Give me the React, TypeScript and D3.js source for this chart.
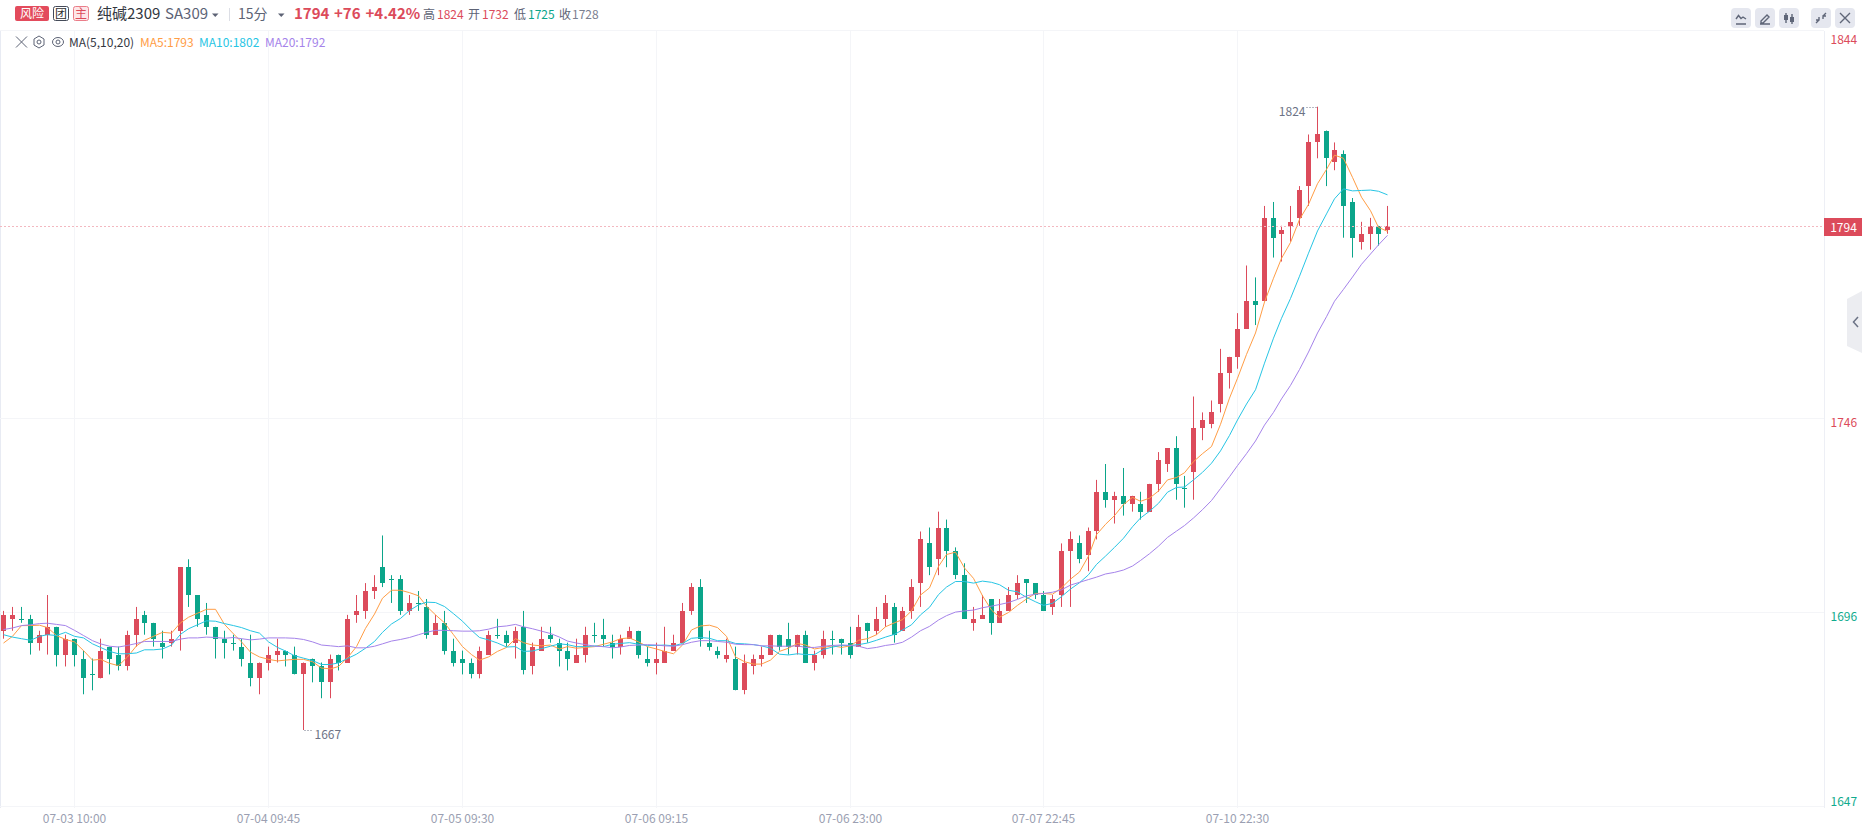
import React from "react";
import * as d3 from "d3";

const opens = [
  1692,1695,1695,1695,1689,1691,1693,1686,1690,1685,
  1681,1680,1688,1686,1683,1691,1696,1694,1689,1689,
  1692,1708,1701,1696,1693,1690,1689,1688,1684,1680,
  1684,1686,1687,1686,1681,1685,1683,1679,1686,1684,
  1696,1697,1702,1708,1705,1705,1697,1699,1698,1691,
  1694,1687,1685,1684,1681,1686,1691,1691,1689,1693,
  1683,1687,1691,1689,1687,1684,1686,1691,1691,1689,
  1688,1690,1692,1685,1684,1684,1687,1689,1697,1703,
  1689,1687,1685,1685,1677,1683,1685,1686,1691,1690,
  1688,1691,1684,1686,1690,1690,1689,1688,1694,1692,
  1695,1698,1692,1697,1704,1714,1710,1718,1712,1706,
  1694,1695,1700,1694,1697,1701,1705,1704,1701,1698,
  1701,1712,1714,1711,1717,1727,1725,1726,1724,1724,
  1722,1729,1734,1738,1728,1732,1743,1744,1749,1757,
  1761,1768,1775,1775,1796,1792,1794,1796,1804,1815,
  1818,1810,1812,1800,1790,1792,1794,1793,
];
const highs = [
  1697,1698,1698,1696,1692,1701,1693,1691,1690,1687,
  1685,1690,1688,1688,1692,1698,1697,1694,1692,1692,
  1708,1710,1701,1699,1693,1692,1691,1690,1691,1684,
  1688,1690,1687,1688,1684,1685,1684,1686,1686,1696,
  1701,1704,1706,1716,1706,1706,1701,1702,1700,1696,
  1697,1690,1687,1685,1688,1692,1695,1692,1693,1697,
  1689,1693,1693,1690,1689,1690,1693,1694,1695,1691,
  1691,1693,1692,1688,1689,1693,1691,1699,1704,1705,
  1692,1688,1690,1688,1686,1686,1688,1691,1691,1694,
  1691,1692,1687,1692,1692,1690,1693,1696,1694,1698,
  1701,1699,1698,1705,1717,1718,1722,1720,1713,1709,
  1698,1701,1700,1700,1703,1706,1705,1704,1702,1701,
  1714,1717,1716,1718,1730,1734,1727,1733,1726,1727,
  1729,1737,1738,1741,1731,1751,1747,1750,1763,1761,
  1772,1784,1781,1799,1800,1794,1799,1804,1817,1824,
  1818,1815,1813,1801,1795,1796,1794,1799,
];
const lows = [
  1690,1692,1694,1686,1687,1686,1683,1683,1683,1676,
  1677,1680,1681,1682,1682,1688,1691,1688,1685,1688,
  1687,1698,1693,1691,1685,1685,1687,1683,1678,1676,
  1682,1684,1683,1681,1667,1679,1675,1675,1682,1684,
  1694,1695,1700,1703,1699,1696,1696,1697,1690,1691,
  1686,1683,1681,1680,1680,1686,1690,1688,1685,1681,
  1681,1687,1689,1683,1682,1684,1684,1689,1688,1685,
  1686,1690,1685,1683,1681,1684,1687,1689,1696,1688,
  1687,1685,1684,1677,1676,1681,1683,1686,1687,1686,
  1686,1684,1682,1685,1686,1686,1685,1688,1689,1691,
  1693,1689,1692,1695,1698,1706,1706,1708,1705,1695,
  1692,1695,1691,1694,1697,1700,1699,1700,1697,1696,
  1698,1698,1709,1707,1715,1723,1719,1721,1722,1720,
  1722,1727,1732,1725,1723,1725,1740,1743,1747,1753,
  1758,1768,1769,1775,1786,1785,1790,1794,1799,1811,
  1804,1808,1791,1786,1788,1788,1789,1792,
];
const closes = [
  1696,1696,1695,1689,1691,1693,1686,1690,1686,1680,
  1681,1687,1685,1683,1691,1695,1694,1690,1688,1690,
  1708,1701,1695,1693,1690,1689,1689,1685,1680,1684,
  1686,1687,1686,1681,1684,1683,1679,1685,1684,1695,
  1697,1702,1703,1704,1705,1697,1699,1699,1691,1694,
  1687,1684,1684,1681,1687,1691,1691,1689,1692,1682,
  1688,1690,1690,1687,1685,1686,1691,1691,1690,1688,
  1690,1692,1686,1684,1685,1687,1689,1697,1703,1690,
  1688,1686,1686,1677,1684,1685,1686,1691,1688,1688,
  1691,1684,1686,1690,1690,1689,1686,1693,1692,1695,
  1699,1691,1697,1703,1715,1708,1718,1712,1706,1695,
  1695,1696,1694,1697,1701,1704,1704,1701,1697,1700,
  1712,1715,1710,1717,1727,1725,1726,1724,1726,1722,
  1729,1735,1738,1729,1728,1743,1745,1747,1757,1761,
  1768,1775,1774,1796,1791,1793,1795,1803,1815,1817,
  1811,1813,1799,1791,1792,1794,1792,1794,
];
const ma5 = [
  1688.9,1690.6,1693.3,1693.3,1693.4,1692.8,1690.8,1689.8,1689.2,1687,
  1684.6,1684.8,1683.8,1683.2,1685.4,1688.2,1689.6,1690.6,1691.6,1691.4,
  1694,1695.4,1696.4,1697.4,1697.4,1693.6,1691.2,1689.2,1686.6,1685.4,
  1684.8,1684.4,1684.6,1684.8,1684.8,1684.2,1682.6,1682.4,1683,1685.2,
  1688,1692.6,1696.2,1700.2,1702.2,1702.2,1701.6,1700.8,1698.2,1696,
  1694,1691,1688,1686,1684.6,1685.4,1686.8,1687.8,1690,1689,
  1688.4,1688.2,1688.4,1687.4,1688,1687.6,1687.8,1688,1688.6,1689.2,
  1690,1690.2,1689.2,1688,1687.4,1686.8,1686.2,1688.4,1692.2,1693.2,
  1693.4,1692.8,1690.6,1685.4,1684.2,1683.6,1683.6,1684.6,1686.8,1687.6,
  1688.8,1688.4,1687.4,1687.8,1688.2,1687.8,1688.2,1689.6,1690,1691,
  1693,1694,1694.8,1697,1701,1702.8,1708.2,1711.2,1711.8,1707.8,
  1705.2,1700.8,1697.2,1695.4,1696.6,1698.4,1700,1701.4,1701.4,1701.2,
  1702.8,1705,1706.8,1710.8,1716.2,1718.8,1721,1723.8,1725.6,1724.6,
  1725.4,1727.2,1730,1730.6,1731.8,1734.6,1736.6,1738.4,1744,1750.6,
  1755.6,1761.6,1767,1774.8,1780.8,1785.8,1789.8,1795.6,1799.4,1804.6,
  1808.2,1811.8,1811,1806.2,1801.2,1797.8,1793.6,1792.6,
];
const ma10 = [
  1691,1690.4,1690,1689.6,1690.6,1691,1690.8,1691.6,1690.6,1690.2,
  1688.7,1687.8,1686.8,1686.2,1686.2,1686.4,1687.2,1687.2,1687.4,1688.4,
  1691.1,1692.5,1693.5,1694.5,1694.4,1693.8,1693.3,1692.8,1692,1691.4,
  1689.2,1687.8,1686.9,1685.7,1685.1,1684.5,1683.5,1683.5,1683.9,1685,
  1686.1,1687.6,1689.3,1691.6,1693.7,1695.1,1697.1,1698.5,1699.2,1699.1,
  1698.1,1696.3,1694.4,1692.1,1690.3,1689.7,1688.9,1687.9,1688,1686.8,
  1686.9,1687.5,1688.1,1688.7,1688.5,1688,1688,1688.2,1688,1688.6,
  1688.8,1689,1688.6,1688.3,1688.3,1688.4,1688.2,1688.8,1690.1,1690.3,
  1690.1,1689.5,1689.5,1688.8,1688.7,1688.5,1688.2,1687.6,1686.1,1685.9,
  1686.2,1686,1686,1687.3,1687.9,1688.3,1688.3,1688.5,1688.9,1689.6,
  1690.4,1691.1,1692.2,1693.5,1696,1697.9,1701.1,1703,1704.4,1704.4,
  1704,1704.5,1704.2,1703.6,1702.2,1701.8,1700.4,1699.3,1698.4,1698.9,
  1700.6,1702.5,1704.1,1706.1,1708.7,1710.8,1713,1715.3,1718.2,1720.4,
  1722.1,1724.1,1726.9,1728.1,1728.2,1730,1731.9,1734.2,1737.3,1741.2,
  1745.1,1749.1,1752.7,1759.4,1765.7,1770.7,1775.7,1781.3,1787.1,1792.7,
  1797,1800.8,1803.3,1802.8,1802.9,1803,1802.7,1801.8,
];
const ma20 = [
  1692.3,1692.7,1693.3,1693.5,1693.8,1693.9,1693.6,1693.3,1692.1,1690.8,
  1689.5,1688.7,1688.1,1687.9,1688.3,1688.8,1689.3,1689.3,1689.3,1689.3,
  1689.9,1690.2,1690.2,1690.4,1690.3,1690.1,1690.3,1690,1689.7,1689.9,
  1690.2,1690.2,1690.2,1690.1,1689.8,1689.2,1688.4,1688.2,1688,1688.2,
  1687.7,1687.7,1688.1,1688.7,1689.4,1689.8,1690.3,1691,1691.6,1692.1,
  1692.1,1692,1691.9,1691.9,1692,1692.4,1693,1693.2,1693.6,1693,
  1692.5,1691.9,1691.3,1690.4,1689.4,1688.9,1688.5,1688.1,1688,1687.7,
  1687.9,1688.3,1688.4,1688.5,1688.4,1688.2,1688.1,1688.5,1689.1,1689.5,
  1689.5,1689.3,1689.1,1688.6,1688.5,1688.5,1688.2,1688.2,1688.1,1688.1,
  1688.2,1687.8,1687.8,1688.1,1688.3,1688.4,1688.3,1688.1,1687.5,1687.8,
  1688.3,1688.6,1689.1,1690.4,1692,1693.1,1694.7,1695.8,1696.7,1697,
  1697.2,1697.8,1698.2,1698.6,1699.1,1699.9,1700.8,1701.2,1701.4,1701.7,
  1702.3,1703.5,1704.2,1704.9,1705.5,1706.3,1706.7,1707.3,1708.3,1709.7,
  1711.4,1713.3,1715.5,1717.1,1718.5,1720.4,1722.5,1724.8,1727.8,1730.8,
  1733.6,1736.6,1739.8,1743.8,1747,1750.4,1753.8,1757.8,1762.2,1767,
  1771.1,1775,1778,1781.1,1784.3,1786.9,1789.2,1791.6,
];

const xTickIndex = [8, 30, 52, 74, 96, 118, 140];
const xTickLabels = ["07-03 10:00", "07-04 09:45", "07-05 09:30", "07-06 09:15", "07-06 23:00", "07-07 22:45", "07-10 22:30"];
const yGridValues = [1843.3, 1745.5, 1696.7, 1647.9];
const yTickLabels = ["1844", "1746", "1696", "1647"];
const lastPrice = 1794;

const W = 1862;
const H = 830;
const RED = "#dc4b5b";
const GREEN = "#0ba58a";
const C5 = "#ff9d45";
const C10 = "#27c5e4";
const C20 = "#a583ea";
const GRID = "#f4f5f8";
const FONT = "'Noto Sans CJK SC', 'Noto Sans', sans-serif";

const plotRight = 1824;
const plotTop = 31;
const plotBottom = 808;

const x = d3.scaleLinear().domain([0, 158]).range([3.9, 3.9 + 158 * 8.814]);
const y = d3.scaleLinear().domain([1824, 1667]).range([106.7, 730]);

const px = (v: number) => Math.floor(x(v)) + 0.5;
const py = (v: number) => Math.round(y(v)) + 0.5;

const maPath = (vals: number[]) =>
  d3.line<number>().x((_, i) => px(i)).y((d) => y(d))(vals) as string;

function Candles() {
  return (
    <g>
      {closes.map((c, i) => {
        const o = opens[i];
        const col = c > o ? RED : GREEN;
        const cx = px(i);
        const top = Math.round(y(Math.max(o, c)));
        const bot = Math.round(y(Math.min(o, c)));
        return (
          <g key={i}>
            <line x1={cx} x2={cx} y1={y(highs[i])} y2={y(lows[i])} stroke={col} strokeWidth={1} />
            <rect x={cx - 2.5} y={top} width={5} height={Math.max(bot - top, 1)} fill={col} />
          </g>
        );
      })}
    </g>
  );
}

function Header() {
  const t = (s: string, tx: number, fill: string, size = 12, weight = 400) => (
    <text x={tx} y={18.5} fill={fill} fontSize={size} fontWeight={weight}>{s}</text>
  );
  return (
    <g fontFamily={FONT}>
      <rect x={15} y={6} width={34} height={15} rx={2} fill="#e34b5c" />
      <text x={32} y={18} fill="#fff" fontSize={12} textAnchor="middle">风险</text>
      <rect x={53.5} y={6.5} width={15} height={14} rx={2} fill="#fff" stroke="#444a58" />
      <text x={61} y={18} fill="#333" fontSize={12} textAnchor="middle">团</text>
      <rect x={73.5} y={6.5} width={15} height={14} rx={2} fill="#fde6e8" stroke="#ea7d89" />
      <text x={81} y={18} fill={RED} fontSize={12} textAnchor="middle">主</text>
      {t("纯碱2309", 97, "#33373f", 15)}
      {t("SA309", 165, "#5d6375", 15)}
      <path d="M212 13.5h6.5l-3.25 3.5z" fill="#5d6375" />
      <line x1={229.5} x2={229.5} y1={8} y2={21} stroke="#dcdee5" />
      {t("15分", 238, "#5d6375", 14)}
      <path d="M278 13.5h6.5l-3.25 3.5z" fill="#5d6375" />
      {t("1794", 294, RED, 15, 700)}
      {t("+76", 334, RED, 15, 700)}
      {t("+4.42%", 365.5, RED, 15, 700)}
      {t("高", 423, "#5d6375")}
      {t("1824", 437, RED)}
      {t("开", 468, "#5d6375")}
      {t("1732", 482, RED)}
      {t("低", 514, "#5d6375")}
      {t("1725", 528, GREEN)}
      {t("收", 559, "#5d6375")}
      {t("1728", 572, "#7b8090")}
    </g>
  );
}

function Legend() {
  const ty = 47;
  return (
    <g fontFamily={FONT} fontSize={12}>
      <path d="M16 36.5l11 11M27 36.5l-11 11" stroke="#5d6375" fill="none" />
      <path d="M39 36l5 3v6l-5 3-5-3v-6z" stroke="#5d6375" fill="none" />
      <circle cx={39} cy={42} r={2} stroke="#5d6375" fill="none" />
      <ellipse cx={58} cy={42} rx={5.5} ry={4.5} stroke="#5d6375" fill="none" />
      <circle cx={58} cy={42} r={2} stroke="#5d6375" fill="none" />
      <text x={69} y={ty} fill="#33373f">MA(5,10,20)</text>
      <text x={140} y={ty} fill={C5}>MA5:1793</text>
      <text x={199} y={ty} fill={C10}>MA10:1802</text>
      <text x={265} y={ty} fill={C20}>MA20:1792</text>
    </g>
  );
}

function Toolbar() {
  const starts = [1731, 1755, 1779, 1811, 1835];
  const icons = [
    "M5 16h10M5 11l2.5-3.5 2.5 3 2-1.5 3 2",
    "M5 16h10M6 13l6-6 2 2-6 6H6z",
    "M7 5v10M13 6v10",
    "M5 15l3.5-3.5M15 5l-3.5 3.5M8 9v3H5M12 11V8h3",
    "M5 5l10 10M15 5l-10 10",
  ];
  return (
    <g>
      {starts.map((sx, i) => (
        <g key={sx} transform={`translate(${sx},8)`}>
          <rect width={20} height={20} rx={4} fill="#e5e7ef" />
          <path d={icons[i]} stroke="#5f6678" strokeWidth={1.4} fill="none" />
          {i === 2 && <rect x={5} y={7} width={4} height={5} fill="#5f6678" />}
          {i === 2 && <rect x={11} y={9} width={4} height={5} fill="#5f6678" />}
        </g>
      ))}
    </g>
  );
}

export default function App() {
  const hiIdx = d3.maxIndex(highs);
  const loIdx = d3.minIndex(lows);
  const lastY = Math.round(y(lastPrice));
  return (
    <div style={{ position: "fixed", left: 0, top: 0, background: "#fff" }}>
      <svg width={W} height={H} style={{ display: "block" }}>
        <rect width={W} height={H} fill="#fff" />
        {/* grid */}
        <line x1={0.5} x2={0.5} y1={plotTop} y2={plotBottom} stroke="#e8ebf3" />
        {yGridValues.map((v) => (
          <line key={v} x1={0} x2={plotRight} y1={py(v)} y2={py(v)} stroke={GRID} />
        ))}
        {xTickIndex.map((i) => (
          <line key={i} x1={px(i)} x2={px(i)} y1={plotTop} y2={plotBottom} stroke={GRID} />
        ))}
        <line x1={plotRight + 0.5} x2={plotRight + 0.5} y1={plotTop} y2={plotBottom} stroke="#edeff5" />

        <Candles />
        <path d={maPath(ma5)} fill="none" stroke={C5} strokeWidth={1} />
        <path d={maPath(ma10)} fill="none" stroke={C10} strokeWidth={1} />
        <path d={maPath(ma20)} fill="none" stroke={C20} strokeWidth={1} />

        {/* last price */}
        <line x1={0} x2={plotRight} y1={lastY + 0.5} y2={lastY + 0.5} stroke="#f3b8c0" strokeDasharray="2 2" />
        <rect x={plotRight} y={lastY - 8} width={W - plotRight} height={18} fill={RED} />
        <text x={1843.5} y={lastY + 6} fill="#fff" fontSize={12} fontFamily={FONT} textAnchor="middle">{lastPrice}</text>

        {/* high / low marks */}
        <g fontFamily={FONT} fontSize={12} fill="#6d7386">
          <line x1={px(hiIdx) - 11} x2={px(hiIdx) - 1} y1={py(highs[hiIdx])} y2={py(highs[hiIdx])} stroke="#6d7386" strokeDasharray="1 2" />
          <text x={px(hiIdx) - 12} y={y(highs[hiIdx]) + 9} textAnchor="end">{highs[hiIdx]}</text>
          <line x1={px(loIdx) + 1} x2={px(loIdx) + 9} y1={py(lows[loIdx])} y2={py(lows[loIdx])} stroke="#6d7386" strokeDasharray="1 2" />
          <text x={px(loIdx) + 11} y={y(lows[loIdx]) + 9}>{lows[loIdx]}</text>
        </g>

        {/* axes */}
        <g fontFamily={FONT} fontSize={12}>
          {yGridValues.map((v, i) => (
            <text key={v} x={1830.5} y={Math.min(Math.max(y(v) + 8.5, 44), 805.5)} fill={i < 2 ? RED : "#10ab8e"}>
              {yTickLabels[i]}
            </text>
          ))}
          {xTickIndex.map((i, k) => (
            <text key={i} x={px(i)} y={823} fill="#9b9fb2" textAnchor="middle">{xTickLabels[k]}</text>
          ))}
        </g>

        <path d="M1862 291 L1847 299 V346 L1862 353 Z" fill="#ecedf1" />
        <path d="M1858 317 L1853.5 322 L1858 327" fill="none" stroke="#6b7285" strokeWidth={1.5} />

        <Header />
        <Legend />
        <Toolbar />
      </svg>
    </div>
  );
}
